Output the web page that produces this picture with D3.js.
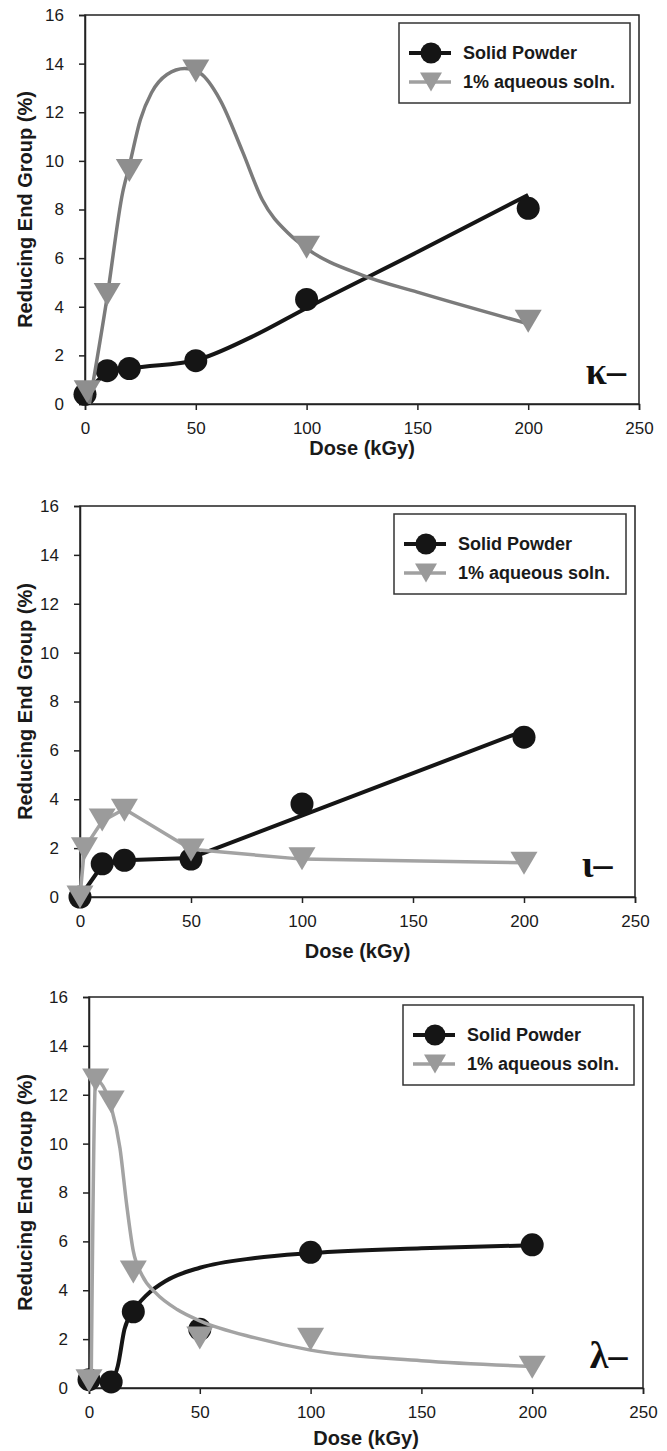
<!DOCTYPE html>
<html>
<head>
<meta charset="utf-8">
<script src="https://cdnjs.cloudflare.com/ajax/libs/d3/7.8.5/d3.min.js"></script>
<style>
  body { margin: 0; background: #fff; }
  svg { display: block; font-family: "Liberation Sans", Arial, sans-serif; }
</style>
</head>
<body>
<svg id="chart" width="667" height="1451"></svg>
<script>
// axis ticks shared by all three panels
const xTicks = [0, 50, 100, 150, 200, 250];
const yTicks = [0, 2, 4, 6, 8, 10, 12, 14, 16];
const seriesNames = ["Solid Powder", "1% aqueous soln."];

// kappa carrageenan
const kappaSolidDose = [0, 10, 20, 50, 100, 200];
const kappaSolid = [0.4, 1.37, 1.46, 1.78, 4.3, 8.05];
const kappaAqDose = [1, 10, 20, 50, 100, 200];
const kappaAq = [0.5, 4.5, 9.6, 13.7, 6.45, 3.4];
// fitted curves as drawn in the figure
const kappaSolidFitDose = [0, 10, 20, 50, 75, 100, 150, 200];
const kappaSolidFit = [0.4, 1.25, 1.45, 1.8, 2.75, 3.95, 6.25, 8.6];
const kappaAqFitDose = [2, 10, 17, 20, 25, 30, 37, 45, 52, 61, 71, 80, 92, 100, 125, 150, 200];
const kappaAqFit = [0, 4.4, 8.7, 9.8, 11.7, 12.8, 13.55, 13.8, 13.6, 12.5, 10.4, 8.4, 7.0, 6.4, 5.3, 4.6, 3.3];

// iota carrageenan
const iotaSolidDose = [0, 10, 20, 50, 100, 200];
const iotaSolid = [0, 1.36, 1.5, 1.55, 3.81, 6.54];
const iotaAqDose = [0, 2, 10, 20, 50, 100, 200];
const iotaAq = [0, 1.97, 3.15, 3.55, 1.92, 1.57, 1.38];
const iotaSolidFitDose = [0, 10, 20, 50, 200];
const iotaSolidFit = [0, 1.3, 1.5, 1.6, 6.8];
const iotaAqFitDose = [0, 2, 10, 20, 50, 100, 200];
const iotaAqFit = [0, 2.0, 3.1, 3.6, 1.95, 1.55, 1.4];

// lambda carrageenan
const lambdaSolidDose = [0, 10, 20, 50, 100, 200];
const lambdaSolid = [0.34, 0.25, 3.12, 2.4, 5.55, 5.86];
const lambdaAqDose = [0, 3, 10, 20, 50, 100, 200];
const lambdaAq = [0.3, 12.6, 11.7, 4.75, 2.05, 2.0, 0.85];
const lambdaSolidFitDose = [0, 10, 13, 16, 20, 26, 35, 50, 75, 100, 150, 200];
const lambdaSolidFit = [0.35, 0.3, 0.9, 2.4, 3.15, 3.8, 4.4, 4.92, 5.32, 5.52, 5.72, 5.84];
const lambdaAqFitDose = [1, 3, 10, 14, 17, 20, 24, 30, 40, 50, 75, 100, 150, 200];
const lambdaAqFit = [0.3, 12.6, 11.5, 9.8, 7.5, 5.6, 4.6, 3.9, 3.2, 2.75, 2.05, 1.55, 1.12, 0.88];

const panels = [
  {
    box: {left: 85, right: 639, top: 15, bottom: 404}, titleGap: 51, tag: "\u03ba\u2013",
    solid: [kappaSolidDose, kappaSolid], aq: [kappaAqDose, kappaAq],
    solidFit: [kappaSolidFitDose, kappaSolidFit], aqFit: [kappaAqFitDose, kappaAqFit],
    curve: d3.curveMonotoneX, aqLine: "#7b7b7b", aqMarker: "#8e8e8e"
  },
  {
    box: {left: 80, right: 635, top: 506, bottom: 897}, titleGap: 61, tag: "\u03b9\u2013",
    solid: [iotaSolidDose, iotaSolid], aq: [iotaAqDose, iotaAq],
    solidFit: [iotaSolidFitDose, iotaSolidFit], aqFit: [iotaAqFitDose, iotaAqFit],
    curve: d3.curveLinear, aqLine: "#a3a3a3", aqMarker: "#9b9b9b"
  },
  {
    box: {left: 89, right: 643, top: 997, bottom: 1388}, titleGap: 57, tag: "\u03bb\u2013",
    solid: [lambdaSolidDose, lambdaSolid], aq: [lambdaAqDose, lambdaAq],
    solidFit: [lambdaSolidFitDose, lambdaSolidFit], aqFit: [lambdaAqFitDose, lambdaAqFit],
    curve: d3.curveMonotoneX, aqLine: "#a3a3a3", aqMarker: "#9b9b9b"
  }
];

const BLACK = "#151515";
const AXIS = "#222";
const R = 11.5;       // circle marker radius
const TRI_W = 27, TRI_H = 23;

const svg = d3.select("#chart");
svg.append("rect").attr("width", 667).attr("height", 1451).attr("fill", "#fff");

// downward pointing triangle centred on 0,0
function triPath(w, h) {
  return "M" + (-w / 2) + "," + (-h / 2) + "L" + (w / 2) + "," + (-h / 2) + "L0," + (h / 2) + "Z";
}

function zipPts(pair) {
  return pair[0].map((d, i) => [d, pair[1][i]]);
}

panels.forEach(p => {
  const b = p.box;
  const x = d3.scaleLinear().domain([0, 250]).range([b.left, b.right]);
  const y = d3.scaleLinear().domain([0, 16]).range([b.bottom, b.top]);
  const g = svg.append("g");

  // frame (top and right borders)
  g.append("rect")
    .attr("x", b.left).attr("y", b.top)
    .attr("width", b.right - b.left).attr("height", b.bottom - b.top)
    .attr("fill", "none").attr("stroke", AXIS).attr("stroke-width", 1.5);

  const xAxis = g.append("g")
    .attr("transform", "translate(0," + b.bottom + ")")
    .call(d3.axisBottom(x).tickValues(xTicks).tickSize(6).tickPadding(12).tickFormat(d3.format("d")));
  const yAxis = g.append("g")
    .attr("transform", "translate(" + b.left + ",0)")
    .call(d3.axisLeft(y).tickValues(yTicks).tickSize(6).tickPadding(15).tickFormat(d3.format("d")));
  [xAxis, yAxis].forEach(a => {
    a.select(".domain").attr("stroke", AXIS).attr("stroke-width", 1.5);
    a.selectAll(".tick line").attr("stroke", AXIS).attr("stroke-width", 1.5);
    a.selectAll(".tick text").attr("fill", "#1a1a1a")
      .style("font-size", "17px").style("font-family", "'Liberation Sans', Arial, sans-serif");
  });

  // axis titles
  g.append("text")
    .attr("x", (b.left + b.right) / 2).attr("y", b.bottom + p.titleGap)
    .attr("text-anchor", "middle").attr("font-size", 20).attr("font-weight", "bold")
    .attr("fill", "#1a1a1a").text("Dose (kGy)");
  g.append("text")
    .attr("transform", "translate(32," + (b.top + b.bottom) / 2 + ") rotate(-90)")
    .attr("text-anchor", "middle").attr("font-size", 20).attr("font-weight", "bold")
    .attr("fill", "#1a1a1a").text("Reducing End Group (%)");

  const line = d3.line().x(d => x(d[0])).y(d => y(d[1])).curve(p.curve);

  // solid powder series
  g.append("path").datum(zipPts(p.solidFit))
    .attr("d", line).attr("fill", "none")
    .attr("stroke", BLACK).attr("stroke-width", 4).attr("stroke-linejoin", "round");
  g.selectAll(".solid").data(zipPts(p.solid)).enter().append("circle")
    .attr("class", "solid")
    .attr("cx", d => x(d[0])).attr("cy", d => y(d[1])).attr("r", R)
    .attr("fill", BLACK);

  // aqueous solution series
  g.append("path").datum(zipPts(p.aqFit))
    .attr("d", line).attr("fill", "none")
    .attr("stroke", p.aqLine).attr("stroke-width", 3.5).attr("stroke-linejoin", "round");
  g.selectAll(".aq").data(zipPts(p.aq)).enter().append("path")
    .attr("class", "aq")
    .attr("transform", d => "translate(" + x(d[0]) + "," + y(d[1]) + ")")
    .attr("d", triPath(TRI_W, TRI_H))
    .attr("fill", p.aqMarker);

  // panel tag (kappa / iota / lambda)
  g.append("text")
    .attr("x", x(226)).attr("y", b.bottom - 20)
    .attr("font-family", "'Liberation Serif', 'DejaVu Serif', serif")
    .attr("font-size", 38).attr("font-weight", "bold").attr("fill", "#111")
    .text(p.tag);

  // legend
  const lg = g.append("g").attr("transform", "translate(" + (b.left + 314) + "," + (b.top + 8) + ")");
  lg.append("rect").attr("width", b.right - b.left - 323).attr("height", 80)
    .attr("fill", "#fff").attr("stroke", "#333").attr("stroke-width", 1.5);
  const rows = lg.selectAll(".row").data(seriesNames).enter().append("g")
    .attr("transform", (d, i) => "translate(0," + (30 + i * 29) + ")");
  rows.append("line").attr("x1", 10).attr("x2", 52)
    .attr("stroke", (d, i) => i === 0 ? BLACK : "#a0a0a0")
    .attr("stroke-width", (d, i) => i === 0 ? 4 : 3.5);
  rows.each(function (d, i) {
    const row = d3.select(this);
    if (i === 0) {
      row.append("circle").attr("cx", 32).attr("r", 10.5).attr("fill", BLACK);
    } else {
      row.append("path").attr("transform", "translate(32,0)")
        .attr("d", triPath(22, 19)).attr("fill", "#9a9a9a");
    }
  });
  rows.append("text").attr("x", 64).attr("dy", "0.35em")
    .attr("font-size", 18).attr("font-weight", "bold").attr("fill", "#1a1a1a")
    .text(d => d);
});
</script>
</body>
</html>
